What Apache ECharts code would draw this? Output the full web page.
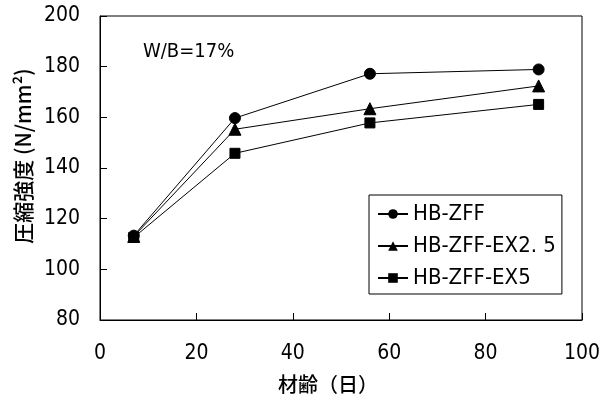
<!DOCTYPE html>
<html>
<head>
<meta charset="utf-8">
<script src="https://cdn.jsdelivr.net/npm/echarts@6/dist/echarts.min.js"></script>
<style>
  html, body { margin: 0; padding: 0; background: #fff; }
  #chart { width: 612px; height: 405px; }
</style>
</head>
<body>
<div id="chart"></div>
<script>
// Curing age (days) and compressive strength (N/mm2) for each mix
const ages = [7, 28, 56, 91];
const hbZff = [113.3, 159.7, 177.2, 178.9];
const hbZffEx25 = [113.0, 155.3, 163.4, 172.4];
const hbZffEx5 = [112.6, 145.8, 157.8, 165.1];

const seriesNames = ['HB-ZFF', 'HB-ZFF-EX2.5', 'HB-ZFF-EX5'];
const legendLabels = ['HB-ZFF', 'HB-ZFF-EX2. 5', 'HB-ZFF-EX5'];
const xTicks = [0, 20, 40, 60, 80, 100];
const yTicks = [80, 100, 120, 140, 160, 180, 200];

const FONT = "'Liberation Sans Narrow', 'DejaVu Sans Condensed', 'Noto Sans CJK JP', sans-serif";
const CJK = "'Noto Sans CJK JP', 'Liberation Sans Narrow', sans-serif";

function pairs(ys) { return ages.map((x, i) => [x, ys[i]]); }

const chart = echarts.init(document.getElementById('chart'), null, { renderer: 'canvas' });

const markerSeries = [
  { name: seriesNames[0], data: pairs(hbZff), symbol: 'circle', symbolSize: 11 },
  { name: seriesNames[1], data: pairs(hbZffEx25), symbol: 'triangle', symbolSize: 12 },
  { name: seriesNames[2], data: pairs(hbZffEx5), symbol: 'rect', symbolSize: 10 }
];

chart.setOption({
  animation: false,
  backgroundColor: '#fff',
  textStyle: { fontFamily: FONT, color: '#000' },
  grid: {
    left: 100, right: 30, top: 16, bottom: 85,
    show: true, borderColor: '#000', borderWidth: 1
  },
  title: {
    text: 'W/B=17%',
    left: 138, top: 37,
    textStyle: { fontFamily: FONT, fontSize: 20, fontWeight: 'normal', color: '#000' }
  },
  legend: {
    orient: 'vertical',
    left: 369, top: 195,
    padding: [8, 6, 5, 8],
    borderColor: '#000', borderWidth: 1,
    backgroundColor: '#fff',
    itemWidth: 30, itemHeight: 12, itemGap: 10,
    data: seriesNames,
    formatter: function (name) { return legendLabels[seriesNames.indexOf(name)]; },
    textStyle: { fontFamily: FONT, fontSize: 22, color: '#000', lineHeight: 22, padding: [0, 0, 0, 0] }
  },
  xAxis: {
    type: 'value', min: xTicks[0], max: xTicks[xTicks.length - 1], interval: 20,
    name: '材齢（日）', nameLocation: 'middle', nameGap: 54,
    nameTextStyle: { fontFamily: CJK, fontSize: 20, fontWeight: 500, color: '#000', padding: [0, 26, 0, 0] },
    axisLine: { lineStyle: { color: '#000', width: 1 } },
    axisTick: { inside: true, length: 7, lineStyle: { color: '#000' } },
    axisLabel: { margin: 23, fontSize: 21, color: '#000', fontFamily: FONT },
    splitLine: { show: false }
  },
  yAxis: {
    type: 'value', min: yTicks[0], max: yTicks[yTicks.length - 1], interval: 20,
    name: '圧縮強度 (N/mm²)', nameLocation: 'middle', nameGap: 63, nameRotate: 90,
    nameTextStyle: { fontFamily: CJK, fontSize: 21, fontWeight: 500, color: '#000', padding: [0, 0, 0, 24] },
    axisLine: { lineStyle: { color: '#000', width: 1 } },
    axisTick: { inside: true, length: 7, lineStyle: { color: '#000' } },
    axisLabel: { margin: 20, fontSize: 21, color: '#000', fontFamily: FONT },
    splitLine: { show: false }
  },
  series: markerSeries.map(s => ({
    type: 'line',
    name: s.name,
    data: s.data,
    symbol: s.symbol,
    symbolSize: s.symbolSize,
    showSymbol: true,
    lineStyle: { color: '#000', width: 1 },
    itemStyle: { color: '#000', borderColor: '#000' }
  }))
});
</script>
</body>
</html>
